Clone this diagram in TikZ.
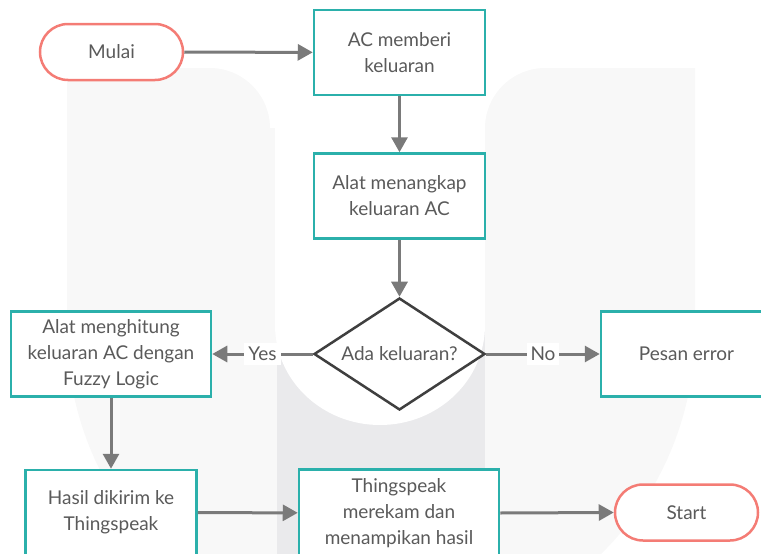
\documentclass[tikz,border=0pt]{standalone}
\usepackage{fontspec}
\setmainfont{Lato}
\usetikzlibrary{shapes.geometric,arrows.meta}
\definecolor{tealb}{HTML}{2BB0AB}
\definecolor{salmon}{HTML}{F47C75}
\definecolor{arr}{HTML}{7A7A7A}
\definecolor{txt}{HTML}{5A5A5A}
\definecolor{dia}{HTML}{3F3F3F}
\definecolor{wmA}{HTML}{F8F8F8}
\definecolor{wmB}{HTML}{EAEAEC}
\begin{document}
\begin{tikzpicture}[x=1pt,y=-1pt,
  font=\fontsize{19}{26}\selectfont,
  box/.style={draw=tealb, line width=2.5pt, fill=white, text=txt, align=center,
    minimum width=171pt, minimum height=85pt, inner sep=0pt},
  term/.style={draw=salmon, line width=2.5pt, fill=white, text=txt, rounded corners=28pt,
    minimum width=143pt, minimum height=56pt, inner sep=0pt},
  decide/.style={diamond, draw=dia, line width=2.5pt, fill=white, text=txt, aspect=1.5,
    minimum width=171pt, minimum height=112pt, inner sep=0pt},
  flow/.style={draw=arr, line width=3pt, -{Triangle[length=15pt,width=16pt]}},
  lbl/.style={fill=white, text=txt, inner sep=4pt}]
\useasboundingbox (0,0) rectangle (761,554);
\clip (0,0) rectangle (761,554);
% watermark
\fill[wmA] (67,68) -- (67,330) arc[start angle=180,end angle=0,radius=314] -- (695,68) -- cycle;
\fill[wmB] (277,280) rectangle (485,560);
\fill[white] (210,60) -- (210,68) arc[start angle=-90,end angle=0,radius=60] -- (275,128) -- (275,325)
  arc[start angle=180,end angle=0,x radius=105,y radius=100] -- (485,128)
  arc[start angle=180,end angle=270,radius=60] -- (545,60) -- cycle;
% nodes
\node[term] (mulai) at (111.5,52) {Mulai};
\node[box] (ac) at (399.5,52.5) {AC memberi\\keluaran};
\node[box] (tangkap) at (399.5,196) {Alat menangkap\\keluaran AC};
\node[decide] (ada) at (399.5,354) {Ada keluaran?};
\node[box, minimum width=200pt] (hitung) at (111,354) {Alat menghitung\\keluaran AC dengan\\Fuzzy Logic};
\node[box] (err) at (686.5,354) {Pesan error};
\node[box] (hasil) at (111,512.5) {Hasil dikirim ke\\Thingspeak};
\node[box, minimum width=200pt, minimum height=87pt] (thing) at (399,513) {Thingspeak\\merekam dan\\menampikan hasil};
\node[term] (start) at (686.5,512.5) {Start};
% connectors
\draw[flow] (mulai) -- (ac);
\draw[flow] (ac) -- (tangkap);
\draw[flow] (tangkap) -- (ada);
\draw[flow] (ada) -- node[lbl] {Yes} (hitung);
\draw[flow] (ada) -- node[lbl] {No} (err);
\draw[flow] (hitung) -- (hasil);
\draw[flow] (hasil) -- (thing);
\draw[flow] (thing.east) -- (start.west);
\end{tikzpicture}
\end{document}
